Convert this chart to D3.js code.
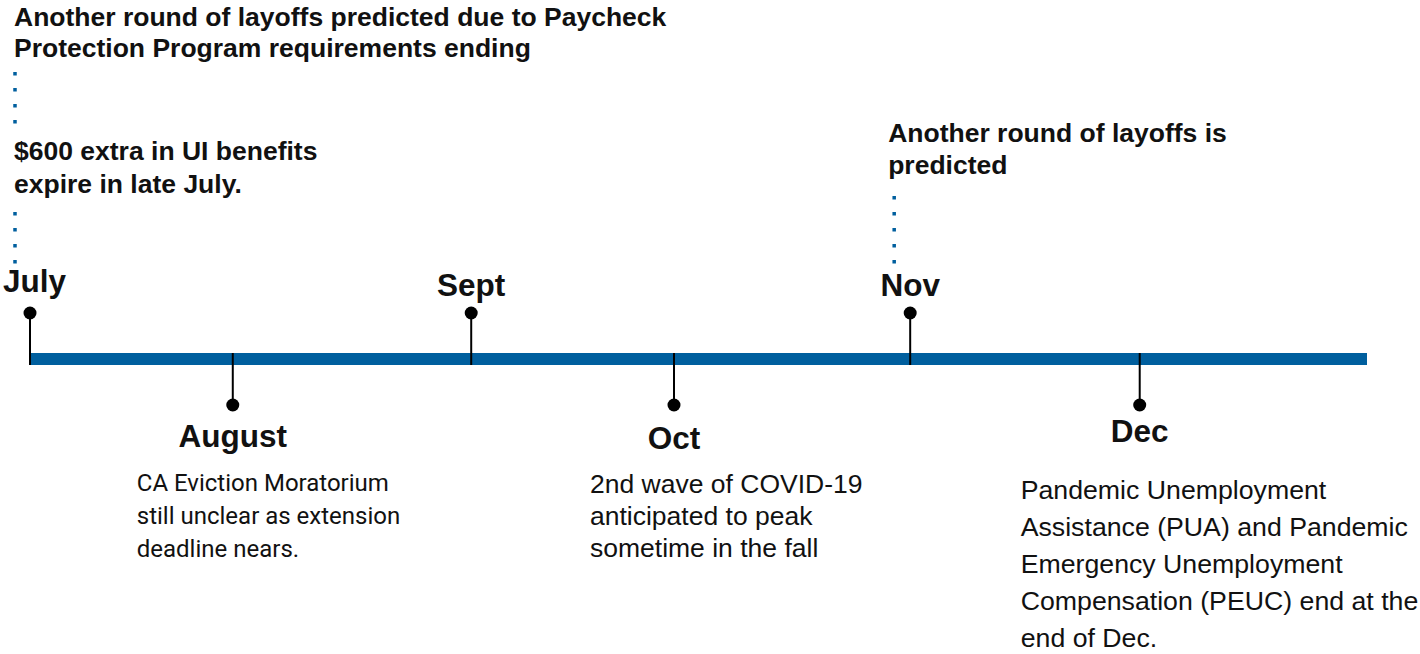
<!DOCTYPE html>
<html>
<head>
<meta charset="utf-8">
<script src="https://cdn.jsdelivr.net/npm/d3@7"></script>
<style>
  html, body { margin: 0; padding: 0; background: #fff; }
  svg { display: block; }
</style>
</head>
<body>
<div id="chart"></div>
<script>
// ─── Data ───
const months = ['July', 'August', 'Sept', 'Oct', 'Nov', 'Dec'];
// where each stem meets the bar, in months after the start of July
const markerPos = [0, 0.91, 1.98, 2.89, 3.95, 4.98];
const sides = ['up', 'down', 'up', 'down', 'up', 'down'];

// notes hanging below the bar
const belowNotes = [
  { month: 'August', lines: ['CA Eviction Moratorium', 'still unclear as extension', 'deadline nears.'] },
  { month: 'Oct', lines: ['2nd wave of COVID-19', 'anticipated to peak', 'sometime in the fall'] },
  { month: 'Dec', lines: ['Pandemic Unemployment', 'Assistance (PUA) and Pandemic', 'Emergency Unemployment', 'Compensation (PEUC) end at the', 'end of Dec.'] }
];

// stacked notes above the bar, bottom-most first
const aboveNotes = [
  { month: 'July', lines: ['$600 extra in UI benefits', 'expire in late July.'] },
  { month: 'July', lines: ['Another round of layoffs predicted due to Paycheck', 'Protection Program requirements ending'] },
  { month: 'Nov', lines: ['Another round of layoffs is', 'predicted'] }
];

const width = 1420, height = 654;

const x = d3.scaleLinear()
  .domain([0, 6])
  .range([30, 1367]);

const BAR_Y = 359;
const BLUE = '#005f9e';
const ARIAL = '"Liberation Sans", Arial, sans-serif';

const svg = d3.select('#chart').append('svg')
  .attr('width', width)
  .attr('height', height);

// ─── Timeline bar ───
svg.append('line')
  .attr('x1', x.range()[0]).attr('x2', x.range()[1])
  .attr('y1', BAR_Y).attr('y2', BAR_Y)
  .attr('stroke', BLUE)
  .attr('stroke-width', 12);

const markers = months.map((m, i) => ({
  month: m,
  x: x(markerPos[i]),
  side: sides[i]
}));
const byMonth = new Map(markers.map(d => [d.month, d]));

// ─── Stems + dots ───
const mg = svg.append('g');
mg.selectAll('line')
  .data(markers)
  .join('line')
  .attr('x1', d => d.x).attr('x2', d => d.x)
  .attr('y1', d => d.side === 'up' ? 313 : BAR_Y - 6)
  .attr('y2', d => d.side === 'up' ? BAR_Y + 6 : 405)
  .attr('stroke', '#000')
  .attr('stroke-width', 2);

mg.selectAll('circle')
  .data(markers)
  .join('circle')
  .attr('cx', d => d.x)
  .attr('cy', d => d.side === 'up' ? 313 : 405)
  .attr('r', 6.5)
  .attr('fill', '#000');

const labelY = { July: 292, Sept: 296, Nov: 296, August: 447, Oct: 449, Dec: 442 };
mg.selectAll('text')
  .data(markers)
  .join('text')
  .attr('x', d => d.month === 'July' ? d.x + 4.5 : d.x)
  .attr('y', d => labelY[d.month])
  .attr('text-anchor', 'middle')
  .style('font-family', ARIAL)
  .style('font-weight', 700)
  .style('font-size', '31.5px')
  .attr('fill', '#111')
  .text(d => d.month);

// ─── Notes below ───
const belowStyle = {
  August: { dx: -96, y: 491, lh: 33, size: 24, font: 'Roboto, sans-serif' },
  Oct: { dx: -84, y: 493, lh: 32, size: 26.5, font: ARIAL },
  Dec: { dx: -119, y: 499, lh: 37, size: 26.7, font: ARIAL }
};
belowNotes.forEach(n => {
  const m = byMonth.get(n.month);
  const s = belowStyle[n.month];
  svg.append('text')
    .attr('x', m.x + s.dx)
    .attr('y', s.y)
    .style('font-family', s.font)
    .style('font-size', s.size + 'px')
    .attr('fill', '#111')
    .selectAll('tspan')
    .data(n.lines)
    .join('tspan')
    .attr('x', m.x + s.dx)
    .attr('dy', (d, i) => i === 0 ? 0 : s.lh)
    .text(d => d);
});

// ─── Notes above, joined by dotted leaders ───
const aboveStyle = [
  { dx: -16, y: 160, lh: 33, dotX: -15, dotTop: 212, dotBot: 264 },
  { dx: -16, y: 26, lh: 31, dotX: -15, dotTop: 72, dotBot: 124 },
  { dx: -22, y: 142, lh: 32, dotX: -16, dotTop: 196, dotBot: 264 }
];
aboveNotes.forEach((n, k) => {
  const m = byMonth.get(n.month);
  const s = aboveStyle[k];
  svg.append('text')
    .attr('x', m.x + s.dx)
    .attr('y', s.y)
    .style('font-family', ARIAL)
    .style('font-weight', 700)
    .style('font-size', '26.5px')
    .attr('fill', '#111')
    .selectAll('tspan')
    .data(n.lines)
    .join('tspan')
    .attr('x', m.x + s.dx)
    .attr('dy', (d, i) => i === 0 ? 0 : s.lh)
    .text(d => d);

  svg.append('line')
    .attr('x1', m.x + s.dotX).attr('x2', m.x + s.dotX)
    .attr('y1', s.dotTop).attr('y2', s.dotBot)
    .attr('stroke', BLUE)
    .attr('stroke-width', 3.5)
    .attr('stroke-dasharray', '3.5,12.5');
});
</script>
</body>
</html>
